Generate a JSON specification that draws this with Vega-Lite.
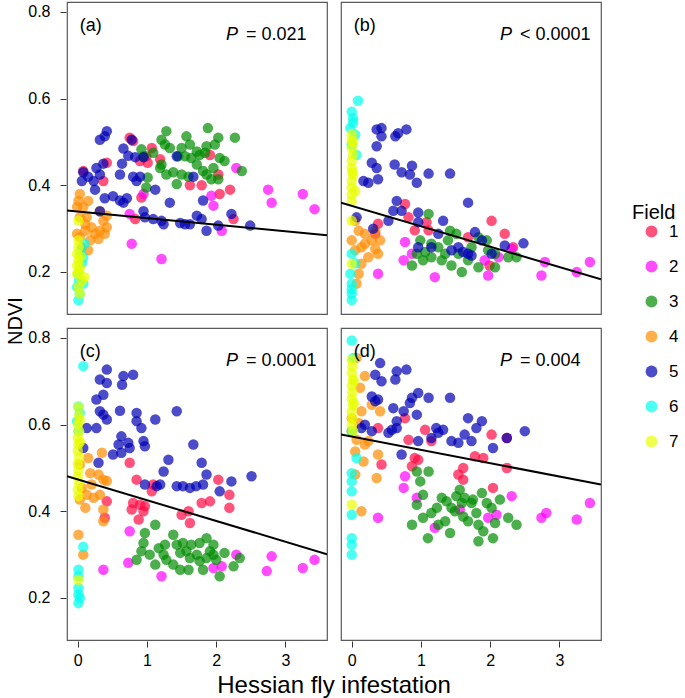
{
  "$schema": "https://vega.github.io/schema/vega-lite/v6.json",
  "padding": {"left": 6, "top": 1, "right": 0, "bottom": 0},
  "config": {
    "font": "Liberation Sans",
    "view": {"stroke": "#5a5a5a", "strokeWidth": 1.2},
    "axis": {"grid": false, "domain": false, "tickColor": "#333", "tickSize": 6, "labelColor": "#000", "labelFontSize": 16, "titleFontWeight": "normal", "titleColor": "#000"},
    "axisY": {"labelPadding": 10},
    "axisX": {"labelPadding": 5},
    "legend": {"titleFontWeight": "normal"}
  },
  "datasets": {
    "panels": [
      {"p": "a", "pr": "1top", "pc": "1left"},
      {"p": "b", "pr": "1top", "pc": "2right"},
      {"p": "c", "pr": "2bottom", "pc": "1left"},
      {"p": "d", "pr": "2bottom", "pc": "2right"}
    ]
  },
  "data": {"values": [
{"p":"a","f":"1","x":0.08,"y":0.433},{"p":"a","f":"1","x":0.42,"y":0.452},{"p":"a","f":"1","x":0.37,"y":0.41},{"p":"a","f":"1","x":0.75,"y":0.51},{"p":"a","f":"1","x":0.80,"y":0.502},{"p":"a","f":"1","x":0.90,"y":0.456},{"p":"a","f":"1","x":0.92,"y":0.372},{"p":"a","f":"1","x":1.07,"y":0.486},{"p":"a","f":"1","x":0.99,"y":0.467},{"p":"a","f":"1","x":1.01,"y":0.452},{"p":"a","f":"1","x":0.83,"y":0.322},{"p":"a","f":"1","x":1.62,"y":0.40},{"p":"a","f":"1","x":1.79,"y":0.40},{"p":"a","f":"1","x":2.03,"y":0.425},{"p":"a","f":"1","x":2.05,"y":0.38},{"p":"a","f":"1","x":2.20,"y":0.39},{"p":"a","f":"1","x":2.25,"y":0.322},{"p":"a","f":"1","x":1.91,"y":0.47},{"p":"a","f":"1","x":1.19,"y":0.46},
{"p":"a","f":"2","x":0.75,"y":0.334},{"p":"a","f":"2","x":0.78,"y":0.265},{"p":"a","f":"2","x":1.21,"y":0.23},{"p":"a","f":"2","x":1.93,"y":0.376},{"p":"a","f":"2","x":1.96,"y":0.353},{"p":"a","f":"2","x":2.08,"y":0.295},{"p":"a","f":"2","x":2.29,"y":0.44},{"p":"a","f":"2","x":2.75,"y":0.39},{"p":"a","f":"2","x":2.80,"y":0.36},{"p":"a","f":"2","x":3.25,"y":0.38},{"p":"a","f":"2","x":3.42,"y":0.345},{"p":"a","f":"2","x":0.95,"y":0.38},
{"p":"a","f":"3","x":0.92,"y":0.483},{"p":"a","f":"3","x":0.95,"y":0.467},{"p":"a","f":"3","x":1.01,"y":0.418},{"p":"a","f":"3","x":0.99,"y":0.395},{"p":"a","f":"3","x":1.09,"y":0.475},{"p":"a","f":"3","x":1.21,"y":0.505},{"p":"a","f":"3","x":1.28,"y":0.525},{"p":"a","f":"3","x":1.26,"y":0.494},{"p":"a","f":"3","x":1.21,"y":0.448},{"p":"a","f":"3","x":1.33,"y":0.486},{"p":"a","f":"3","x":1.38,"y":0.43},{"p":"a","f":"3","x":1.43,"y":0.403},{"p":"a","f":"3","x":1.50,"y":0.486},{"p":"a","f":"3","x":1.57,"y":0.513},{"p":"a","f":"3","x":1.55,"y":0.467},{"p":"a","f":"3","x":1.62,"y":0.494},{"p":"a","f":"3","x":1.64,"y":0.463},{"p":"a","f":"3","x":1.72,"y":0.448},{"p":"a","f":"3","x":1.76,"y":0.47},{"p":"a","f":"3","x":1.84,"y":0.475},{"p":"a","f":"3","x":1.88,"y":0.532},{"p":"a","f":"3","x":1.86,"y":0.49},{"p":"a","f":"3","x":1.96,"y":0.44},{"p":"a","f":"3","x":1.98,"y":0.494},{"p":"a","f":"3","x":2.03,"y":0.51},{"p":"a","f":"3","x":2.05,"y":0.463},{"p":"a","f":"3","x":2.12,"y":0.456},{"p":"a","f":"3","x":2.27,"y":0.51},{"p":"a","f":"3","x":2.37,"y":0.433},{"p":"a","f":"3","x":2.03,"y":0.414},{"p":"a","f":"3","x":1.86,"y":0.425},{"p":"a","f":"3","x":1.60,"y":0.42},{"p":"a","f":"3","x":1.50,"y":0.425},{"p":"a","f":"3","x":1.28,"y":0.425},{"p":"a","f":"3","x":1.72,"y":0.478},{"p":"a","f":"3","x":1.45,"y":0.467},{"p":"a","f":"3","x":1.93,"y":0.414},{"p":"a","f":"3","x":1.81,"y":0.433},{"p":"a","f":"3","x":1.19,"y":0.44},
{"p":"a","f":"4","x":0.03,"y":0.38},{"p":"a","f":"4","x":0.01,"y":0.364},{"p":"a","f":"4","x":0.15,"y":0.364},{"p":"a","f":"4","x":0.08,"y":0.35},{"p":"a","f":"4","x":-0.01,"y":0.35},{"p":"a","f":"4","x":0.03,"y":0.326},{"p":"a","f":"4","x":0.13,"y":0.326},{"p":"a","f":"4","x":0.20,"y":0.303},{"p":"a","f":"4","x":0.11,"y":0.295},{"p":"a","f":"4","x":0.03,"y":0.28},{"p":"a","f":"4","x":0.18,"y":0.273},{"p":"a","f":"4","x":0.30,"y":0.276},{"p":"a","f":"4","x":0.32,"y":0.295},{"p":"a","f":"4","x":0.39,"y":0.288},{"p":"a","f":"4","x":0.42,"y":0.303},{"p":"a","f":"4","x":0.37,"y":0.318},{"p":"a","f":"4","x":0.06,"y":0.257},{"p":"a","f":"4","x":0.15,"y":0.25},{"p":"a","f":"4","x":0.25,"y":0.288},{"p":"a","f":"4","x":0.32,"y":0.34},{"p":"a","f":"4","x":0.42,"y":0.33},{"p":"a","f":"4","x":0.11,"y":0.31},{"p":"a","f":"4","x":-0.01,"y":0.288},
{"p":"a","f":"5","x":0.42,"y":0.525},{"p":"a","f":"5","x":0.39,"y":0.513},{"p":"a","f":"5","x":0.32,"y":0.505},{"p":"a","f":"5","x":0.08,"y":0.43},{"p":"a","f":"5","x":0.06,"y":0.41},{"p":"a","f":"5","x":0.23,"y":0.41},{"p":"a","f":"5","x":0.15,"y":0.42},{"p":"a","f":"5","x":0.27,"y":0.44},{"p":"a","f":"5","x":0.32,"y":0.425},{"p":"a","f":"5","x":0.37,"y":0.45},{"p":"a","f":"5","x":0.25,"y":0.39},{"p":"a","f":"5","x":0.32,"y":0.34},{"p":"a","f":"5","x":0.39,"y":0.37},{"p":"a","f":"5","x":0.51,"y":0.375},{"p":"a","f":"5","x":0.61,"y":0.365},{"p":"a","f":"5","x":0.66,"y":0.36},{"p":"a","f":"5","x":0.71,"y":0.37},{"p":"a","f":"5","x":0.61,"y":0.425},{"p":"a","f":"5","x":0.64,"y":0.45},{"p":"a","f":"5","x":0.66,"y":0.485},{"p":"a","f":"5","x":0.73,"y":0.468},{"p":"a","f":"5","x":0.78,"y":0.505},{"p":"a","f":"5","x":0.80,"y":0.42},{"p":"a","f":"5","x":0.85,"y":0.41},{"p":"a","f":"5","x":0.90,"y":0.42},{"p":"a","f":"5","x":0.83,"y":0.465},{"p":"a","f":"5","x":0.95,"y":0.465},{"p":"a","f":"5","x":1.12,"y":0.39},{"p":"a","f":"5","x":0.95,"y":0.34},{"p":"a","f":"5","x":0.97,"y":0.326},{"p":"a","f":"5","x":1.09,"y":0.322},{"p":"a","f":"5","x":1.21,"y":0.318},{"p":"a","f":"5","x":1.24,"y":0.31},{"p":"a","f":"5","x":1.33,"y":0.36},{"p":"a","f":"5","x":1.43,"y":0.467},{"p":"a","f":"5","x":1.48,"y":0.313},{"p":"a","f":"5","x":1.55,"y":0.31},{"p":"a","f":"5","x":1.62,"y":0.31},{"p":"a","f":"5","x":1.67,"y":0.42},{"p":"a","f":"5","x":1.72,"y":0.33},{"p":"a","f":"5","x":1.79,"y":0.322},{"p":"a","f":"5","x":1.81,"y":0.365},{"p":"a","f":"5","x":1.86,"y":0.295},{"p":"a","f":"5","x":2.03,"y":0.307},{"p":"a","f":"5","x":2.22,"y":0.334},{"p":"a","f":"5","x":2.49,"y":0.307},
{"p":"a","f":"6","x":0.01,"y":0.135},{"p":"a","f":"6","x":0.03,"y":0.15},{"p":"a","f":"6","x":0.08,"y":0.173},{"p":"a","f":"6","x":0.06,"y":0.22},{"p":"a","f":"6","x":0.08,"y":0.234},{"p":"a","f":"6","x":0.01,"y":0.196},{"p":"a","f":"6","x":-0.01,"y":0.165},{"p":"a","f":"6","x":0.10,"y":0.265},{"p":"a","f":"6","x":0.04,"y":0.245},{"p":"a","f":"6","x":0.02,"y":0.18},
{"p":"a","f":"7","x":0.01,"y":0.318},{"p":"a","f":"7","x":0.01,"y":0.273},{"p":"a","f":"7","x":0.01,"y":0.257},{"p":"a","f":"7","x":-0.01,"y":0.242},{"p":"a","f":"7","x":0.01,"y":0.227},{"p":"a","f":"7","x":0.03,"y":0.211},{"p":"a","f":"7","x":-0.01,"y":0.196},{"p":"a","f":"7","x":0.06,"y":0.18},{"p":"a","f":"7","x":0.01,"y":0.165},{"p":"a","f":"7","x":0.03,"y":0.15},{"p":"a","f":"7","x":0.10,"y":0.188},{"p":"a","f":"7","x":-0.01,"y":0.215},{"p":"a","f":"7","x":0.02,"y":0.2},{"p":"a","f":"7","x":0.04,"y":0.235},
{"p":"b","f":"1","x":0.77,"y":0.357},{"p":"b","f":"1","x":0.82,"y":0.326},{"p":"b","f":"1","x":1.08,"y":0.315},{"p":"b","f":"1","x":0.38,"y":0.311},{"p":"b","f":"1","x":0.34,"y":0.288},{"p":"b","f":"1","x":1.11,"y":0.296},{"p":"b","f":"1","x":2.02,"y":0.318},{"p":"b","f":"1","x":2.21,"y":0.288},{"p":"b","f":"1","x":2.33,"y":0.257},{"p":"b","f":"1","x":1.68,"y":0.28},{"p":"b","f":"1","x":0.91,"y":0.296},{"p":"b","f":"1","x":1.99,"y":0.215},
{"p":"b","f":"2","x":0.38,"y":0.196},{"p":"b","f":"2","x":0.75,"y":0.227},{"p":"b","f":"2","x":0.77,"y":0.269},{"p":"b","f":"2","x":0.87,"y":0.242},{"p":"b","f":"2","x":1.2,"y":0.188},{"p":"b","f":"2","x":1.92,"y":0.227},{"p":"b","f":"2","x":1.97,"y":0.192},{"p":"b","f":"2","x":2.31,"y":0.253},{"p":"b","f":"2","x":2.74,"y":0.192},{"p":"b","f":"2","x":2.79,"y":0.223},{"p":"b","f":"2","x":3.25,"y":0.2},{"p":"b","f":"2","x":3.44,"y":0.223},{"p":"b","f":"2","x":2.12,"y":0.234},
{"p":"b","f":"3","x":1.11,"y":0.334},{"p":"b","f":"3","x":0.99,"y":0.273},{"p":"b","f":"3","x":0.94,"y":0.242},{"p":"b","f":"3","x":0.87,"y":0.215},{"p":"b","f":"3","x":1.06,"y":0.246},{"p":"b","f":"3","x":1.15,"y":0.234},{"p":"b","f":"3","x":1.3,"y":0.227},{"p":"b","f":"3","x":1.42,"y":0.295},{"p":"b","f":"3","x":1.39,"y":0.273},{"p":"b","f":"3","x":1.44,"y":0.215},{"p":"b","f":"3","x":1.59,"y":0.2},{"p":"b","f":"3","x":1.68,"y":0.227},{"p":"b","f":"3","x":1.83,"y":0.211},{"p":"b","f":"3","x":1.83,"y":0.28},{"p":"b","f":"3","x":1.95,"y":0.273},{"p":"b","f":"3","x":1.97,"y":0.25},{"p":"b","f":"3","x":2.07,"y":0.211},{"p":"b","f":"3","x":2.26,"y":0.234},{"p":"b","f":"3","x":2.38,"y":0.234},{"p":"b","f":"3","x":1.25,"y":0.257},{"p":"b","f":"3","x":1.54,"y":0.242},{"p":"b","f":"3","x":1.35,"y":0.242},{"p":"b","f":"3","x":1.03,"y":0.227},{"p":"b","f":"3","x":1.73,"y":0.257},{"p":"b","f":"3","x":2.07,"y":0.242},{"p":"b","f":"3","x":1.15,"y":0.265},{"p":"b","f":"3","x":1.51,"y":0.288},
{"p":"b","f":"4","x":0.05,"y":0.318},{"p":"b","f":"4","x":0.1,"y":0.295},{"p":"b","f":"4","x":0.19,"y":0.288},{"p":"b","f":"4","x":0.34,"y":0.295},{"p":"b","f":"4","x":0.41,"y":0.273},{"p":"b","f":"4","x":0.29,"y":0.273},{"p":"b","f":"4","x":0.14,"y":0.257},{"p":"b","f":"4","x":0.05,"y":0.25},{"p":"b","f":"4","x":0.24,"y":0.234},{"p":"b","f":"4","x":0.38,"y":0.242},{"p":"b","f":"4","x":0.14,"y":0.219},{"p":"b","f":"4","x":0.1,"y":0.196},{"p":"b","f":"4","x":0.07,"y":0.173},{"p":"b","f":"4","x":0.34,"y":0.253},{"p":"b","f":"4","x":0,"y":0.273},{"p":"b","f":"4","x":0.19,"y":0.265},
{"p":"b","f":"5","x":0.36,"y":0.529},{"p":"b","f":"5","x":0.43,"y":0.532},{"p":"b","f":"5","x":0.43,"y":0.513},{"p":"b","f":"5","x":0.63,"y":0.513},{"p":"b","f":"5","x":0.67,"y":0.52},{"p":"b","f":"5","x":0.79,"y":0.529},{"p":"b","f":"5","x":0.36,"y":0.49},{"p":"b","f":"5","x":0.29,"y":0.452},{"p":"b","f":"5","x":0.36,"y":0.44},{"p":"b","f":"5","x":0.24,"y":0.406},{"p":"b","f":"5","x":0.17,"y":0.41},{"p":"b","f":"5","x":0.38,"y":0.414},{"p":"b","f":"5","x":0.62,"y":0.448},{"p":"b","f":"5","x":0.72,"y":0.43},{"p":"b","f":"5","x":0.87,"y":0.445},{"p":"b","f":"5","x":0.84,"y":0.425},{"p":"b","f":"5","x":0.94,"y":0.406},{"p":"b","f":"5","x":1.11,"y":0.427},{"p":"b","f":"5","x":1.42,"y":0.427},{"p":"b","f":"5","x":1.68,"y":0.36},{"p":"b","f":"5","x":0.65,"y":0.364},{"p":"b","f":"5","x":0.6,"y":0.341},{"p":"b","f":"5","x":0.72,"y":0.341},{"p":"b","f":"5","x":0.53,"y":0.318},{"p":"b","f":"5","x":0.31,"y":0.3},{"p":"b","f":"5","x":0.07,"y":0.326},{"p":"b","f":"5","x":0.96,"y":0.337},{"p":"b","f":"5","x":0.96,"y":0.315},{"p":"b","f":"5","x":1.32,"y":0.318},{"p":"b","f":"5","x":1.25,"y":0.288},{"p":"b","f":"5","x":1.15,"y":0.257},{"p":"b","f":"5","x":0.96,"y":0.257},{"p":"b","f":"5","x":1.44,"y":0.25},{"p":"b","f":"5","x":1.54,"y":0.257},{"p":"b","f":"5","x":1.61,"y":0.246},{"p":"b","f":"5","x":1.68,"y":0.242},{"p":"b","f":"5","x":1.78,"y":0.292},{"p":"b","f":"5","x":1.88,"y":0.273},{"p":"b","f":"5","x":2.02,"y":0.242},{"p":"b","f":"5","x":2.21,"y":0.261},{"p":"b","f":"5","x":2.48,"y":0.266},{"p":"b","f":"5","x":1.73,"y":0.238},
{"p":"b","f":"6","x":0.09,"y":0.595},{"p":"b","f":"6","x":0,"y":0.57},{"p":"b","f":"6","x":0.02,"y":0.555},{"p":"b","f":"6","x":-0.02,"y":0.532},{"p":"b","f":"6","x":0.05,"y":0.517},{"p":"b","f":"6","x":0,"y":0.494},{"p":"b","f":"6","x":-0.02,"y":0.196},{"p":"b","f":"6","x":0,"y":0.173},{"p":"b","f":"6","x":0,"y":0.15},{"p":"b","f":"6","x":0,"y":0.135},{"p":"b","f":"6","x":0.05,"y":0.22},{"p":"b","f":"6","x":0,"y":0.242},{"p":"b","f":"6","x":0.07,"y":0.47},{"p":"b","f":"6","x":0.02,"y":0.545},{"p":"b","f":"6","x":0,"y":0.16},
{"p":"b","f":"7","x":0,"y":0.517},{"p":"b","f":"7","x":0,"y":0.502},{"p":"b","f":"7","x":0,"y":0.486},{"p":"b","f":"7","x":0.02,"y":0.471},{"p":"b","f":"7","x":0,"y":0.456},{"p":"b","f":"7","x":0,"y":0.44},{"p":"b","f":"7","x":0.02,"y":0.425},{"p":"b","f":"7","x":0,"y":0.41},{"p":"b","f":"7","x":0,"y":0.395},{"p":"b","f":"7","x":0,"y":0.379},{"p":"b","f":"7","x":0,"y":0.364},{"p":"b","f":"7","x":0.05,"y":0.387},{"p":"b","f":"7","x":0,"y":0.318},{"p":"b","f":"7","x":0,"y":0.219},{"p":"b","f":"7","x":0.02,"y":0.5},{"p":"b","f":"7","x":0.01,"y":0.43},
{"p":"c","f":"1","x":0.75,"y":0.512},{"p":"c","f":"1","x":0.85,"y":0.473},{"p":"c","f":"1","x":1.07,"y":0.446},{"p":"c","f":"1","x":1.09,"y":0.462},{"p":"c","f":"1","x":0.80,"y":0.419},{"p":"c","f":"1","x":0.78,"y":0.404},{"p":"c","f":"1","x":0.90,"y":0.415},{"p":"c","f":"1","x":0.97,"y":0.412},{"p":"c","f":"1","x":0.88,"y":0.381},{"p":"c","f":"1","x":0.95,"y":0.4},{"p":"c","f":"1","x":1.50,"y":0.392},{"p":"c","f":"1","x":1.60,"y":0.4},{"p":"c","f":"1","x":1.62,"y":0.373},{"p":"c","f":"1","x":1.79,"y":0.419},{"p":"c","f":"1","x":1.91,"y":0.423},{"p":"c","f":"1","x":2.03,"y":0.473},{"p":"c","f":"1","x":2.19,"y":0.438},{"p":"c","f":"1","x":2.19,"y":0.408},{"p":"c","f":"1","x":0.42,"y":0.423},{"p":"c","f":"1","x":0.39,"y":0.385},
{"p":"c","f":"2","x":0.75,"y":0.354},{"p":"c","f":"2","x":0.37,"y":0.265},{"p":"c","f":"2","x":0.73,"y":0.281},{"p":"c","f":"2","x":1.21,"y":0.25},{"p":"c","f":"2","x":2.08,"y":0.273},{"p":"c","f":"2","x":2.29,"y":0.3},{"p":"c","f":"2","x":2.73,"y":0.262},{"p":"c","f":"2","x":2.80,"y":0.296},{"p":"c","f":"2","x":3.25,"y":0.269},{"p":"c","f":"2","x":3.42,"y":0.288},{"p":"c","f":"2","x":1.96,"y":0.269},
{"p":"c","f":"3","x":0.97,"y":0.35},{"p":"c","f":"3","x":1.12,"y":0.369},{"p":"c","f":"3","x":0.95,"y":0.327},{"p":"c","f":"3","x":0.92,"y":0.308},{"p":"c","f":"3","x":0.85,"y":0.288},{"p":"c","f":"3","x":1.04,"y":0.3},{"p":"c","f":"3","x":1.12,"y":0.277},{"p":"c","f":"3","x":1.17,"y":0.315},{"p":"c","f":"3","x":1.26,"y":0.323},{"p":"c","f":"3","x":1.28,"y":0.288},{"p":"c","f":"3","x":1.38,"y":0.346},{"p":"c","f":"3","x":1.43,"y":0.323},{"p":"c","f":"3","x":1.38,"y":0.277},{"p":"c","f":"3","x":1.48,"y":0.265},{"p":"c","f":"3","x":1.52,"y":0.327},{"p":"c","f":"3","x":1.57,"y":0.308},{"p":"c","f":"3","x":1.64,"y":0.323},{"p":"c","f":"3","x":1.62,"y":0.292},{"p":"c","f":"3","x":1.72,"y":0.3},{"p":"c","f":"3","x":1.76,"y":0.327},{"p":"c","f":"3","x":1.86,"y":0.338},{"p":"c","f":"3","x":1.81,"y":0.265},{"p":"c","f":"3","x":1.91,"y":0.308},{"p":"c","f":"3","x":1.96,"y":0.323},{"p":"c","f":"3","x":2.00,"y":0.288},{"p":"c","f":"3","x":2.05,"y":0.25},{"p":"c","f":"3","x":2.12,"y":0.304},{"p":"c","f":"3","x":2.25,"y":0.273},{"p":"c","f":"3","x":2.34,"y":0.292},{"p":"c","f":"3","x":1.48,"y":0.304},{"p":"c","f":"3","x":1.60,"y":0.265},{"p":"c","f":"3","x":1.76,"y":0.285},{"p":"c","f":"3","x":1.86,"y":0.292},{"p":"c","f":"3","x":1.24,"y":0.3},{"p":"c","f":"3","x":1.96,"y":0.3},
{"p":"c","f":"4","x":0.35,"y":0.535},{"p":"c","f":"4","x":0.15,"y":0.523},{"p":"c","f":"4","x":0.03,"y":0.508},{"p":"c","f":"4","x":0.18,"y":0.488},{"p":"c","f":"4","x":0.30,"y":0.485},{"p":"c","f":"4","x":0.37,"y":0.473},{"p":"c","f":"4","x":0.42,"y":0.47},{"p":"c","f":"4","x":0.06,"y":0.454},{"p":"c","f":"4","x":0.13,"y":0.438},{"p":"c","f":"4","x":0.23,"y":0.431},{"p":"c","f":"4","x":0.32,"y":0.438},{"p":"c","f":"4","x":0.11,"y":0.408},{"p":"c","f":"4","x":0.37,"y":0.404},{"p":"c","f":"4","x":0.37,"y":0.377},{"p":"c","f":"4","x":0.01,"y":0.346},{"p":"c","f":"4","x":0.08,"y":0.3},{"p":"c","f":"4","x":0.03,"y":0.427},{"p":"c","f":"4","x":0.20,"y":0.462},
{"p":"c","f":"5","x":0.42,"y":0.727},{"p":"c","f":"5","x":0.32,"y":0.704},{"p":"c","f":"5","x":0.42,"y":0.696},{"p":"c","f":"5","x":0.66,"y":0.712},{"p":"c","f":"5","x":0.64,"y":0.692},{"p":"c","f":"5","x":0.80,"y":0.715},{"p":"c","f":"5","x":0.27,"y":0.658},{"p":"c","f":"5","x":0.37,"y":0.669},{"p":"c","f":"5","x":0.32,"y":0.631},{"p":"c","f":"5","x":0.37,"y":0.623},{"p":"c","f":"5","x":0.42,"y":0.612},{"p":"c","f":"5","x":0.61,"y":0.632},{"p":"c","f":"5","x":0.85,"y":0.627},{"p":"c","f":"5","x":0.85,"y":0.608},{"p":"c","f":"5","x":0.92,"y":0.592},{"p":"c","f":"5","x":1.12,"y":0.612},{"p":"c","f":"5","x":1.43,"y":0.631},{"p":"c","f":"5","x":0.13,"y":0.592},{"p":"c","f":"5","x":0.27,"y":0.592},{"p":"c","f":"5","x":0.63,"y":0.573},{"p":"c","f":"5","x":0.59,"y":0.554},{"p":"c","f":"5","x":0.73,"y":0.558},{"p":"c","f":"5","x":0.75,"y":0.546},{"p":"c","f":"5","x":0.95,"y":0.562},{"p":"c","f":"5","x":0.97,"y":0.55},{"p":"c","f":"5","x":0.51,"y":0.531},{"p":"c","f":"5","x":0.63,"y":0.535},{"p":"c","f":"5","x":0.30,"y":0.512},{"p":"c","f":"5","x":1.31,"y":0.519},{"p":"c","f":"5","x":1.24,"y":0.492},{"p":"c","f":"5","x":1.67,"y":0.554},{"p":"c","f":"5","x":1.79,"y":0.512},{"p":"c","f":"5","x":1.86,"y":0.485},{"p":"c","f":"5","x":0.97,"y":0.462},{"p":"c","f":"5","x":1.19,"y":0.462},{"p":"c","f":"5","x":1.14,"y":0.458},{"p":"c","f":"5","x":1.43,"y":0.458},{"p":"c","f":"5","x":1.52,"y":0.458},{"p":"c","f":"5","x":1.62,"y":0.454},{"p":"c","f":"5","x":1.71,"y":0.458},{"p":"c","f":"5","x":1.81,"y":0.462},{"p":"c","f":"5","x":2.05,"y":0.446},{"p":"c","f":"5","x":2.22,"y":0.469},{"p":"c","f":"5","x":2.51,"y":0.481},{"p":"c","f":"5","x":0.08,"y":0.546},
{"p":"c","f":"6","x":0.08,"y":0.735},{"p":"c","f":"6","x":0.01,"y":0.642},{"p":"c","f":"6","x":0.03,"y":0.627},{"p":"c","f":"6","x":-0.01,"y":0.608},{"p":"c","f":"6","x":0.01,"y":0.585},{"p":"c","f":"6","x":0.08,"y":0.318},{"p":"c","f":"6","x":0.01,"y":0.265},{"p":"c","f":"6","x":0.01,"y":0.25},{"p":"c","f":"6","x":0.01,"y":0.223},{"p":"c","f":"6","x":0.01,"y":0.208},{"p":"c","f":"6","x":0.01,"y":0.188},{"p":"c","f":"6","x":0.03,"y":0.2},
{"p":"c","f":"7","x":0.01,"y":0.64},{"p":"c","f":"7","x":0.02,"y":0.62},{"p":"c","f":"7","x":0,"y":0.6},{"p":"c","f":"7","x":0.02,"y":0.585},{"p":"c","f":"7","x":0,"y":0.57},{"p":"c","f":"7","x":0.01,"y":0.555},{"p":"c","f":"7","x":0,"y":0.54},{"p":"c","f":"7","x":0.02,"y":0.525},{"p":"c","f":"7","x":0,"y":0.51},{"p":"c","f":"7","x":0.01,"y":0.495},{"p":"c","f":"7","x":0,"y":0.48},{"p":"c","f":"7","x":0.02,"y":0.465},{"p":"c","f":"7","x":0,"y":0.45},{"p":"c","f":"7","x":0.01,"y":0.435},{"p":"c","f":"7","x":0.01,"y":0.242},{"p":"c","f":"7","x":0.03,"y":0.61},{"p":"c","f":"7","x":0.03,"y":0.56},
{"p":"d","f":"1","x":0.77,"y":0.615},{"p":"d","f":"1","x":1.06,"y":0.588},{"p":"d","f":"1","x":0.82,"y":0.565},{"p":"d","f":"1","x":0.91,"y":0.523},{"p":"d","f":"1","x":0.96,"y":0.519},{"p":"d","f":"1","x":0.87,"y":0.504},{"p":"d","f":"1","x":0.38,"y":0.592},{"p":"d","f":"1","x":0.43,"y":0.508},{"p":"d","f":"1","x":1.15,"y":0.562},{"p":"d","f":"1","x":2.02,"y":0.577},{"p":"d","f":"1","x":1.78,"y":0.527},{"p":"d","f":"1","x":1.90,"y":0.523},{"p":"d","f":"1","x":1.61,"y":0.5},{"p":"d","f":"1","x":1.54,"y":0.485},{"p":"d","f":"1","x":1.61,"y":0.473},{"p":"d","f":"1","x":2.04,"y":0.454},{"p":"d","f":"1","x":2.24,"y":0.5},{"p":"d","f":"1","x":2.24,"y":0.569},
{"p":"d","f":"2","x":0.77,"y":0.481},{"p":"d","f":"2","x":0.75,"y":0.454},{"p":"d","f":"2","x":0.94,"y":0.431},{"p":"d","f":"2","x":0.38,"y":0.385},{"p":"d","f":"2","x":1.20,"y":0.362},{"p":"d","f":"2","x":1.56,"y":0.404},{"p":"d","f":"2","x":2.09,"y":0.392},{"p":"d","f":"2","x":2.31,"y":0.435},{"p":"d","f":"2","x":2.74,"y":0.385},{"p":"d","f":"2","x":2.81,"y":0.396},{"p":"d","f":"2","x":3.25,"y":0.381},{"p":"d","f":"2","x":3.44,"y":0.419},{"p":"d","f":"2","x":1.97,"y":0.385},
{"p":"d","f":"3","x":0.94,"y":0.492},{"p":"d","f":"3","x":1.11,"y":0.492},{"p":"d","f":"3","x":0.99,"y":0.469},{"p":"d","f":"3","x":1.03,"y":0.438},{"p":"d","f":"3","x":0.94,"y":0.415},{"p":"d","f":"3","x":0.87,"y":0.369},{"p":"d","f":"3","x":1.03,"y":0.385},{"p":"d","f":"3","x":1.10,"y":0.338},{"p":"d","f":"3","x":1.15,"y":0.396},{"p":"d","f":"3","x":1.23,"y":0.408},{"p":"d","f":"3","x":1.25,"y":0.369},{"p":"d","f":"3","x":1.35,"y":0.377},{"p":"d","f":"3","x":1.37,"y":0.423},{"p":"d","f":"3","x":1.42,"y":0.35},{"p":"d","f":"3","x":1.49,"y":0.4},{"p":"d","f":"3","x":1.51,"y":0.435},{"p":"d","f":"3","x":1.56,"y":0.45},{"p":"d","f":"3","x":1.59,"y":0.419},{"p":"d","f":"3","x":1.61,"y":0.388},{"p":"d","f":"3","x":1.63,"y":0.431},{"p":"d","f":"3","x":1.68,"y":0.377},{"p":"d","f":"3","x":1.73,"y":0.419},{"p":"d","f":"3","x":1.80,"y":0.396},{"p":"d","f":"3","x":1.83,"y":0.369},{"p":"d","f":"3","x":1.88,"y":0.442},{"p":"d","f":"3","x":1.90,"y":0.354},{"p":"d","f":"3","x":1.95,"y":0.419},{"p":"d","f":"3","x":1.83,"y":0.331},{"p":"d","f":"3","x":2.04,"y":0.338},{"p":"d","f":"3","x":2.07,"y":0.373},{"p":"d","f":"3","x":2.02,"y":0.408},{"p":"d","f":"3","x":2.14,"y":0.427},{"p":"d","f":"3","x":2.26,"y":0.385},{"p":"d","f":"3","x":2.38,"y":0.369},{"p":"d","f":"3","x":1.44,"y":0.408},{"p":"d","f":"3","x":1.30,"y":0.431},{"p":"d","f":"3","x":1.75,"y":0.427},
{"p":"d","f":"4","x":0.19,"y":0.712},{"p":"d","f":"4","x":0.07,"y":0.754},{"p":"d","f":"4","x":0.12,"y":0.685},{"p":"d","f":"4","x":0.29,"y":0.646},{"p":"d","f":"4","x":0.41,"y":0.631},{"p":"d","f":"4","x":0.14,"y":0.631},{"p":"d","f":"4","x":0,"y":0.615},{"p":"d","f":"4","x":0.07,"y":0.565},{"p":"d","f":"4","x":0.19,"y":0.554},{"p":"d","f":"4","x":0.05,"y":0.538},{"p":"d","f":"4","x":0.38,"y":0.531},{"p":"d","f":"4","x":0.17,"y":0.515},{"p":"d","f":"4","x":0.05,"y":0.485},{"p":"d","f":"4","x":0.36,"y":0.477},{"p":"d","f":"4","x":0.14,"y":0.4},{"p":"d","f":"4","x":0.10,"y":0.604},{"p":"d","f":"4","x":0.24,"y":0.562},{"p":"d","f":"4","x":0,"y":0.585},
{"p":"d","f":"5","x":0.41,"y":0.742},{"p":"d","f":"5","x":0.34,"y":0.715},{"p":"d","f":"5","x":0.43,"y":0.7},{"p":"d","f":"5","x":0.65,"y":0.723},{"p":"d","f":"5","x":0.63,"y":0.704},{"p":"d","f":"5","x":0.79,"y":0.727},{"p":"d","f":"5","x":0.29,"y":0.665},{"p":"d","f":"5","x":0.38,"y":0.658},{"p":"d","f":"5","x":0.34,"y":0.654},{"p":"d","f":"5","x":0.60,"y":0.638},{"p":"d","f":"5","x":0.75,"y":0.631},{"p":"d","f":"5","x":0.87,"y":0.662},{"p":"d","f":"5","x":0.84,"y":0.65},{"p":"d","f":"5","x":0.96,"y":0.673},{"p":"d","f":"5","x":1.11,"y":0.662},{"p":"d","f":"5","x":1.42,"y":0.662},{"p":"d","f":"5","x":0.94,"y":0.623},{"p":"d","f":"5","x":0.65,"y":0.608},{"p":"d","f":"5","x":0.65,"y":0.592},{"p":"d","f":"5","x":0.53,"y":0.581},{"p":"d","f":"5","x":0.19,"y":0.6},{"p":"d","f":"5","x":0.14,"y":0.592},{"p":"d","f":"5","x":0.29,"y":0.585},{"p":"d","f":"5","x":0.58,"y":0.588},{"p":"d","f":"5","x":0.96,"y":0.562},{"p":"d","f":"5","x":0.72,"y":0.531},{"p":"d","f":"5","x":1.15,"y":0.569},{"p":"d","f":"5","x":1.22,"y":0.592},{"p":"d","f":"5","x":1.32,"y":0.588},{"p":"d","f":"5","x":1.44,"y":0.562},{"p":"d","f":"5","x":1.54,"y":0.558},{"p":"d","f":"5","x":1.63,"y":0.577},{"p":"d","f":"5","x":1.68,"y":0.615},{"p":"d","f":"5","x":1.73,"y":0.562},{"p":"d","f":"5","x":1.80,"y":0.592},{"p":"d","f":"5","x":1.88,"y":0.608},{"p":"d","f":"5","x":2.04,"y":0.546},{"p":"d","f":"5","x":2.24,"y":0.569},{"p":"d","f":"5","x":2.50,"y":0.585},{"p":"d","f":"5","x":1.25,"y":0.581},
{"p":"d","f":"6","x":0,"y":0.794},{"p":"d","f":"6","x":0.07,"y":0.523},{"p":"d","f":"6","x":0,"y":0.585},{"p":"d","f":"6","x":0,"y":0.488},{"p":"d","f":"6","x":0,"y":0.469},{"p":"d","f":"6","x":0,"y":0.446},{"p":"d","f":"6","x":0,"y":0.392},{"p":"d","f":"6","x":0,"y":0.338},{"p":"d","f":"6","x":0,"y":0.323},{"p":"d","f":"6","x":0,"y":0.3},{"p":"d","f":"6","x":0.02,"y":0.754},
{"p":"d","f":"7","x":0,"y":0.75},{"p":"d","f":"7","x":0.01,"y":0.735},{"p":"d","f":"7","x":0,"y":0.72},{"p":"d","f":"7","x":0.02,"y":0.705},{"p":"d","f":"7","x":0,"y":0.69},{"p":"d","f":"7","x":0.01,"y":0.675},{"p":"d","f":"7","x":0,"y":0.66},{"p":"d","f":"7","x":0.02,"y":0.645},{"p":"d","f":"7","x":0,"y":0.63},{"p":"d","f":"7","x":0.01,"y":0.615},{"p":"d","f":"7","x":0,"y":0.6},{"p":"d","f":"7","x":0.02,"y":0.585},{"p":"d","f":"7","x":0,"y":0.415},{"p":"d","f":"7","x":0.03,"y":0.7},{"p":"d","f":"7","x":0.03,"y":0.65},
{"p":"a","k":"fit","x":-0.155,"y":0.342},{"p":"a","k":"fit","x":3.6,"y":0.285},
{"p":"b","k":"fit","x":-0.155,"y":0.36},{"p":"b","k":"fit","x":3.6,"y":0.183},
{"p":"c","k":"fit","x":-0.155,"y":0.481},{"p":"c","k":"fit","x":3.6,"y":0.301},
{"p":"d","k":"fit","x":-0.155,"y":0.577},{"p":"d","k":"fit","x":3.6,"y":0.462},
{"p":"a","tag":"(a)","pv":"= 0.021"},{"p":"b","tag":"(b)","pv":"< 0.0001"},{"p":"c","tag":"(c)","pv":"= 0.0001"},{"p":"d","tag":"(d)","pv":"= 0.004"}
  ]},
  "transform": [
    {"lookup": "p", "from": {"data": {"name": "panels"}, "key": "p", "fields": ["pr", "pc"]}}
  ],
  "facet": {
    "row": {"field": "pr", "type": "nominal", "header": {"labels": false, "title": "NDVI", "titleOrient": "left", "titleFontSize": 20, "titleFontWeight": "normal", "titleColor": "#000", "titlePadding": -9}},
    "column": {"field": "pc", "type": "nominal", "header": {"labels": false, "title": "Hessian fly infestation", "titleOrient": "bottom", "titleFontSize": 24, "titleFontWeight": "normal", "titleColor": "#000", "titlePadding": -4}}
  },
  "spacing": 12,
  "spec": {
    "width": 260,
    "height": 312,
    "layer": [
      {
        "transform": [{"filter": "isValid(datum.f)"}],
        "mark": {"type": "circle", "size": 110, "opacity": 0.7, "clip": true},
        "encoding": {
          "x": {"field": "x", "type": "quantitative", "scale": {"domain": [-0.155, 3.6], "nice": false, "zero": false}, "axis": {"values": [0, 1, 2, 3], "format": "d", "title": null}},
          "y": {"field": "y", "type": "quantitative", "scale": {"domain": [0.103, 0.823], "nice": false, "zero": false}, "axis": {"values": [0.2, 0.4, 0.6, 0.8], "format": ".1f", "title": null}},
          "color": {"field": "f", "type": "nominal", "scale": {"domain": ["1", "2", "3", "4", "5", "6", "7"], "range": ["#FF0A45", "#FF00FF", "#008B00", "#FF8C00", "#0000B3", "#00FFEE", "#E8FF00"]},
            "legend": {"title": "Field", "orient": "none", "legendX": 565, "legendY": 201, "titleFontSize": 20, "labelFontSize": 17, "symbolSize": 140, "symbolType": "circle", "symbolOffset": 11, "rowPadding": 17, "labelOffset": 9, "titlePadding": 0, "symbolStrokeWidth": 0}
          }
        }
      },
      {
        "transform": [{"filter": "datum.k == 'fit'"}],
        "mark": {"type": "line", "color": "#000", "strokeWidth": 2, "clip": true},
        "encoding": {
          "x": {"field": "x", "type": "quantitative"},
          "y": {"field": "y", "type": "quantitative"}
        }
      },
      {
        "transform": [{"filter": "isValid(datum.tag)"}],
        "mark": {"type": "text", "align": "left", "baseline": "middle", "fontSize": 18, "color": "#000"},
        "encoding": {
          "x": {"datum": 0.03, "type": "quantitative"},
          "y": {"datum": 0.768, "type": "quantitative"},
          "text": {"field": "tag"}
        }
      },
      {
        "transform": [{"filter": "isValid(datum.tag)"}],
        "mark": {"type": "text", "align": "left", "baseline": "middle", "fontSize": 18, "fontStyle": "italic", "color": "#000"},
        "encoding": {
          "x": {"datum": 2.14, "type": "quantitative"},
          "y": {"datum": 0.747, "type": "quantitative"},
          "text": {"value": "P"}
        }
      },
      {
        "transform": [{"filter": "isValid(datum.tag)"}],
        "mark": {"type": "text", "align": "left", "baseline": "middle", "fontSize": 18, "dx": 20, "color": "#000"},
        "encoding": {
          "x": {"datum": 2.14, "type": "quantitative"},
          "y": {"datum": 0.747, "type": "quantitative"},
          "text": {"field": "pv"}
        }
      }
    ]
  }
}
